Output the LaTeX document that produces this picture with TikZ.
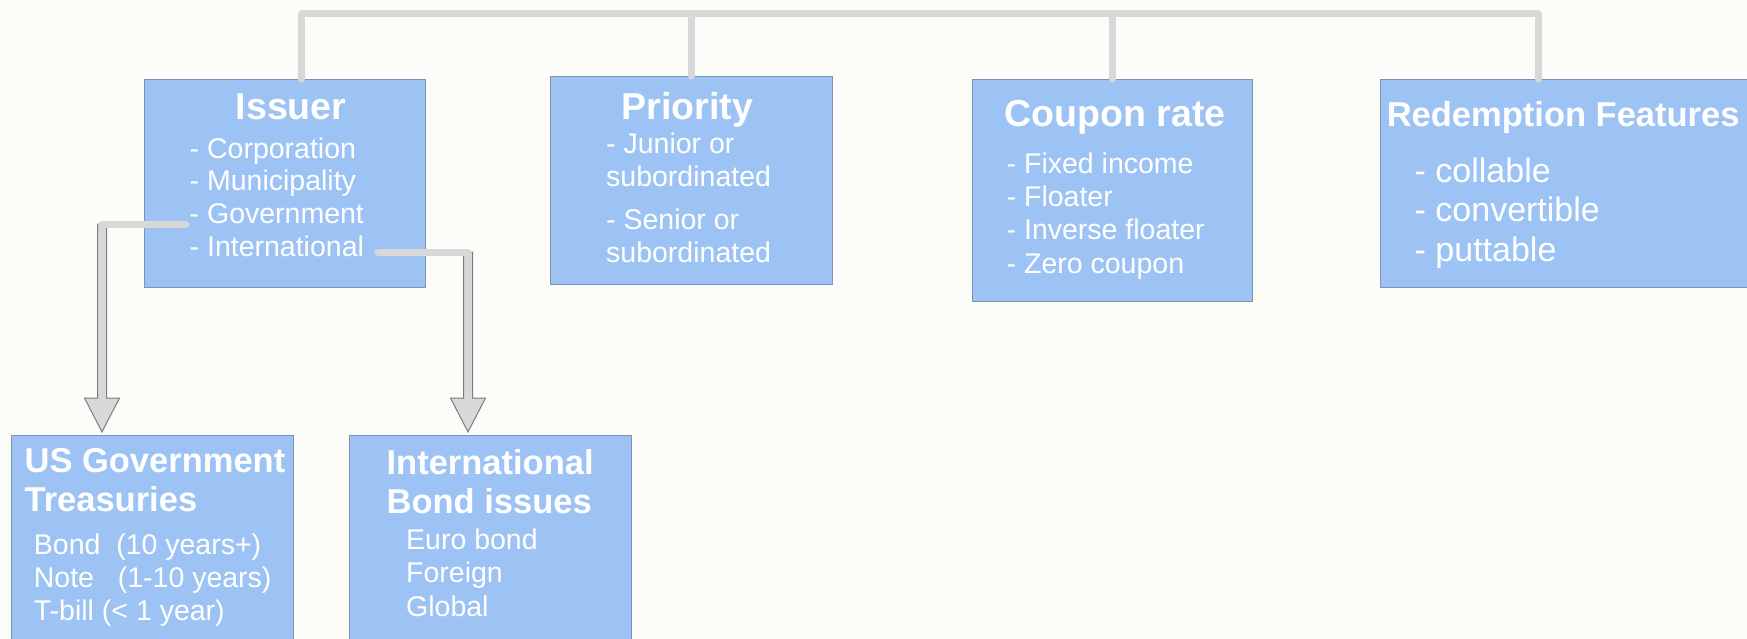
\documentclass[tikz,border=0pt]{standalone}
\usepackage{fontspec}
\setmainfont{Liberation Sans}
\usetikzlibrary{calc}
\definecolor{paper}{RGB}{252,252,248}
\definecolor{boxfill}{RGB}{157,195,245}
\definecolor{boxline}{RGB}{128,148,178}
\definecolor{barcol}{RGB}{216,216,216}
\definecolor{arrowline}{RGB}{125,125,125}
\tikzstyle{category}=[rectangle, draw=boxline, line width=1.2pt, fill=boxfill, inner sep=0pt, anchor=north west]
\tikzstyle{heading}=[text=white, font=\bfseries\fontsize{37.5}{39}\selectfont, inner sep=0pt, anchor=base]
\tikzstyle{subheading}=[heading, font=\bfseries\fontsize{34.5}{39}\selectfont, align=left, anchor=base west]
\tikzstyle{items}=[text=white, font=\fontsize{28.5}{33}\selectfont, align=left, anchor=base west, inner sep=0pt]
\tikzstyle{bar}=[draw=barcol, line width=7pt, line cap=round, line join=round]
\tikzstyle{arrowbody}=[draw=arrowline, fill=barcol, line width=1pt, line join=miter]
\providecommand{\category}{\node[category]}
\providecommand{\hollowarrow}[2]{%
  \filldraw[arrowbody] ($(#1)+(-4.5,0)$) -- ($(#2)+(-4.5,-34)$) -- ($(#2)+(-17.5,-34)$)
    -- (#2) -- ($(#2)+(17.5,-34)$) -- ($(#2)+(4.5,-34)$) -- ($(#1)+(4.5,0)$) -- cycle;}

\begin{document}
\begin{tikzpicture}[x=1pt, y=-1pt]
\useasboundingbox (0,0) rectangle (1747,639);
\fill[paper] (0,0) rectangle (1747,639);

\category[minimum width=281.5pt, minimum height=208pt] (issuer) at (143.5,79) {};
\category[minimum width=281.5pt, minimum height=208pt] (priority) at (550,76) {};
\category[minimum width=280pt, minimum height=222pt] (coupon) at (972,79) {};
\category[minimum width=420pt, minimum height=208pt] (redemption) at (1380,79) {};
\category[minimum width=281.5pt, minimum height=240pt] (usgov) at (11,435) {};
\category[minimum width=281.5pt, minimum height=240pt] (intl) at (349,435) {};

% top bus
\coordinate (busL) at (301.5,14);
\coordinate (busR) at (1538,14);
\draw[bar] (issuer.north -| busL) -- (busL) -- (busR) -- (busR |- redemption.north);
\draw[bar] (priority.north) -- (priority.north |- busL);
\draw[bar] (coupon.north) -- (coupon.north |- busL);

% issuer to sub categories
\coordinate (govend) at (186,224);
\coordinate (intlend) at (378,252);
\coordinate (usgovtip) at ($(usgov.north west)+(91,-3)$);
\coordinate (intltip) at ($(intl.north west)+(119,-3)$);
\coordinate (govturn) at (govend -| usgovtip);
\coordinate (intlturn) at (intlend -| intltip);
\hollowarrow{govturn}{usgovtip}
\hollowarrow{intlturn}{intltip}
\draw[bar] (govend) -- (govturn);
\draw[bar] (intlend) -- (intlturn);

% texts (multi-line nodes sit on their last line)
\node[heading] (issuer-title) at (291,120) {Issuer};
\node[items, font=\fontsize{28.5}{32.7}\selectfont] (issuer-list) at (189.5,256.1) {- Corporation\\- Municipality\\- Government\\- International};
\node[heading] (priority-title) at (687.5,120) {Priority};
\node[items] (priority-junior) at (606,186.5) {- Junior or\\subordinated};
\node[items] (priority-senior) at (606,262.5) {- Senior or\\subordinated};
\node[heading] (coupon-title) at (1115,127) {Coupon rate};
\node[items, font=\fontsize{28.5}{33.3}\selectfont] (coupon-list) at (1006.5,273) {- Fixed income\\- Floater\\- Inverse floater\\- Zero coupon};
\node[subheading] (redemption-title) at (1386.6,127) {Redemption Features};
\node[items, font=\fontsize{34}{39.5}\selectfont] (redemption-list) at (1414.5,261) {- collable\\- convertible\\- puttable};
\node[subheading] (usgov-title) at (24.4,511) {US Government\\Treasuries};
\node[items] (usgov-list) at (33.7,620) {Bond\ \ (10 years+)\\Note\ \ \ (1-10 years)\\T-bill (< 1 year)};
\node[subheading] (intl-title) at (386.4,513) {International\\Bond issues};
\node[items, font=\fontsize{28.5}{33.4}\selectfont] (intl-list) at (406,616) {Euro bond\\Foreign\\Global};
\end{tikzpicture}
\end{document}
